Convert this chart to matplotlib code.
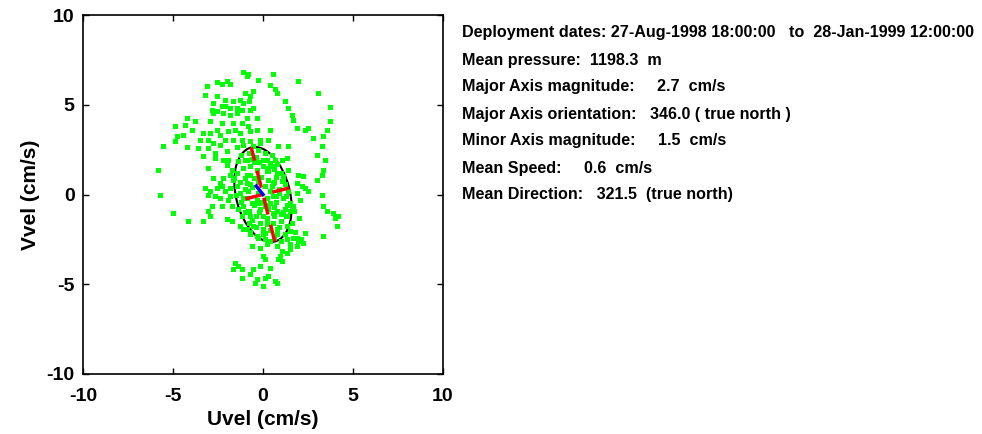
import matplotlib
matplotlib.use("Agg")
import matplotlib.pyplot as plt
import numpy as np
from matplotlib.patches import Ellipse

plt.rcParams['font.family'] = ['Liberation Sans', 'DejaVu Sans']
plt.rcParams['font.weight'] = 'bold'
plt.rcParams['axes.unicode_minus'] = False

# current scatter (cm/s)
uvel = [
    -1.09, -0.81, 0.57, -0.91, -2.02, -2.57, -1.83, 0.39, 1.96, -0.26,
    -3.13, -2.30, -3.22, -2.57, -0.72, -1.00, -0.54, 0.67, 0.76, -2.76,
    -2.30, -2.11, -1.65, -1.28, -1.09, -0.76, 1.22, 3.07, -2.85, -2.57,
    -2.11, -1.83, -1.46, -1.19, -0.72, -0.54, 1.41, 3.72, -4.24, -3.78,
    -4.33, -2.76, -2.20, -1.83, -1.46, -0.91, -0.35, 1.59, 1.69, 3.72,
    -4.89, -3.96, -2.94, -2.30, -1.65, -1.19, -0.81, 1.87, 2.33, 2.52,
    3.54, 3.35, -4.80, -4.43, -3.31, -2.94, -2.57, -2.39, -1.93, -1.56,
    -1.28, -0.72, -0.35, 0.39, 2.80, -5.54, -4.89, -4.24, -3.50, -3.04,
    -2.76, -2.39, -2.11, -1.65, -1.19, -0.72, -0.17, 0.30, 0.85, 1.41,
    3.26, -3.59, -3.04, -2.67, -2.02, -1.46, -1.09, -0.54, -0.17, -3.31,
    -2.67, -2.20, -1.93, -1.37, 2.98, 3.44, -5.81, -3.04, -2.02, -1.74,
    -2.76, -2.20, -2.39, -1.83, -1.65, -1.46, -1.00, -0.72, 0.02, 0.39,
    0.67, 1.04, 1.31, -0.72, -0.35, 0.20, 0.48, 0.76, 1.13, -0.91,
    -0.26, 0.30, 0.57, 1.04, 1.41, 1.96, 2.24, 1.87, 2.15, 2.33,
    2.98, 3.26, 3.35, -3.22, -2.94, -2.57, -2.30, -2.11, -1.83, -1.46,
    -3.04, -2.67, -2.39, -1.83, -1.74, -1.93, -5.72, -1.28, -1.09, -0.81,
    -0.63, -0.35, 0.57, 1.87, 2.52, 3.26, -2.85, -3.04, -2.30, -1.09,
    -0.81, -0.17, 0.11, 0.39, 1.31, 1.69, 2.06, -4.98, -3.31, -4.15,
    -2.94, -2.02, -1.74, -1.19, -0.72, 0.02, 0.57, 1.31, 1.50, 3.35,
    3.54, 3.91, 4.00, 4.19, 4.09, -1.28, -0.91, -0.54, -0.17, 0.20,
    0.57, -0.72, -0.35, 0.11, 0.76, 1.31, 1.50, 1.31, 1.69, 1.96,
    2.24, 1.50, 1.87, 3.35, 2.33, -0.63, -0.17, 0.20, 0.76, 1.04,
    0.94, 1.31, 1.50, -1.56, -1.37, -1.65, -1.19, -0.54, -0.17, 0.11,
    0.39, 0.85, 1.04, 0.02, -1.19, -0.72, -0.35, 0.11, 0.30, 0.67,
    0.76, -0.44, 0.02,
    -1.2, -0.8, -0.4, 0.1, 0.5, 0.8, -1.1, -0.5, 0.0, 0.3,
    0.7, -0.9, -0.5, -0.1, 0.1, 0.4, 0.9, 1.2, -1.3, -1.0,
    -0.6, -0.3, 0.2, 0.7, 1.1, 1.4, -1.2, -0.9, -0.5, -0.1,
    0.3, 0.8, 1.2, -1.0, -0.6, -0.2, 0.2, 0.6, 1.0, 1.3,
    -0.8, -0.4, 0.0, 0.4, 0.9, 1.2, -0.3, 0.1, 0.6, 1.0,
    0.6, 1.0, 0.2, -0.3, 1.5, 1.6, 1.8, -1.4, -1.5, -1.6,
    -0.9, -0.6, -0.2, 0.3, 0.6, 1.1, -1.0, -0.7, -0.3, 0.5,
    0.9, 1.3, -0.8, -0.4, 0.2, 0.6, 1.0, -1.1, -0.7, 0.0,
    0.4, 0.8, -0.2, 0.3, 0.7, 1.1, 1.7, 2.0, 1.9, 2.1,
]
vvel = [
    6.85, 6.72, 6.72, 6.61, 6.30, 6.24, 6.17, 6.11, 6.30, 6.39,
    6.02, 6.17, 5.56, 5.46, 5.50, 5.65, 5.74, 5.87, 5.65, 5.09,
    4.91, 5.28, 5.19, 5.28, 5.09, 5.19, 5.19, 5.65, 4.72, 4.63,
    4.91, 4.81, 4.81, 4.72, 4.72, 4.81, 4.81, 4.85, 4.26, 4.07,
    3.89, 4.54, 4.54, 4.44, 4.54, 4.26, 4.26, 4.44, 4.17, 4.07,
    3.80, 3.61, 4.07, 3.98, 3.98, 3.98, 3.80, 3.70, 3.61, 3.70,
    3.57, 3.24, 3.24, 3.33, 3.43, 3.43, 3.61, 3.33, 3.52, 3.61,
    3.43, 3.52, 3.61, 3.61, 3.15, 2.72, 2.96, 2.65, 3.06, 3.06,
    2.87, 2.78, 3.06, 3.06, 3.06, 2.96, 3.06, 3.06, 2.72, 2.72,
    2.69, 2.59, 2.59, 2.31, 2.41, 2.65, 2.78, 2.69, 2.87, 2.13,
    2.04, 1.94, 1.94, 1.85, 2.22, 1.94, 1.39, 1.48, 1.67, 1.39,
    0.93, 0.93, 0.65, 1.11, 0.83, 1.20, 1.94, 1.57, 1.94, 1.76,
    1.94, 1.94, 2.04, 1.11, 1.39, 1.30, 1.57, 1.20, 1.02, 0.65,
    0.83, 0.83, 0.65, 0.74, 1.39, 1.11, 1.02, 0.65, 0.46, 0.37,
    0.83, 1.11, 1.39, 0.37, 0.19, 0.37, 0.46, 0.19, 0.37, 0.46,
    0.00, -0.09, -0.19, -0.09, -0.65, -0.28, 0.00, 0.09, -0.19, 0.19,
    -0.46, -0.28, -0.09, 0.09, 0.19, 0.00, -0.65, -0.93, -0.65, -0.65,
    -0.93, -0.83, -0.65, -0.46, -0.56, -0.65, -0.28, -1.02, -1.48, -1.48,
    -1.20, -1.39, -1.48, -1.20, -1.20, -1.20, -1.02, -1.20, -0.93, -0.65,
    -0.93, -1.02, -1.30, -1.20, -1.76, -1.76, -1.94, -1.76, -1.57, -1.67,
    -1.57, -2.22, -2.31, -2.13, -1.94, -1.76, -2.04, -2.50, -2.41, -2.59,
    -2.69, -2.78, -2.87, -2.31, -2.13, -2.87, -2.96, -2.78, -2.87, -3.15,
    -3.43, -3.24, -3.06, -3.80, -3.98, -4.17, -4.17, -4.17, -3.98, -3.61,
    -4.07, -3.61, -3.70, -3.43, -4.63, -4.44, -4.72, -4.63, -4.54, -4.81,
    -4.91, -4.91, -5.09,
    2.2, 2.3, 2.1, 2.3, 2.2, 1.7, 1.5, 1.8, 1.6, 1.3,
    1.0, 1.1, 0.9, 1.0, 0.5, 0.2, 0.3, 0.6, 0.7, 0.3,
    0.4, 0.1, -0.2, -0.4, -0.2, 0.2, -0.4, -0.2, -0.6, -0.4,
    -0.8, -0.9, -0.8, -1.0, -1.4, -1.0, -1.3, -1.2, -1.5, -1.2,
    -1.6, -1.8, -1.9, -2.0, -1.8, -2.2, -2.4, -2.5, -2.4, -2.6,
    0.7, 1.2, 1.9, 2.5, -0.5, -1.6, -2.1, -0.8, 0.0, 0.9,
    1.9, 2.0, 1.8, 1.5, 1.4, 0.8, 0.9, 0.6, 0.7, 0.5,
    0.1, -0.1, -0.9, -1.2, -1.6, -0.7, -1.1, -1.9, -2.1, -2.2,
    -2.6, -2.2, -0.5, -0.6, -0.1, -1.0, -0.9, -1.3, -2.4, -2.5,
]

# summary statistics
major_mag = 2.7
minor_mag = 1.5
major_orient = 346.0   # degrees, true north
mean_speed = 0.6
mean_dir = 321.5       # degrees, true north

info_lines = [
    "Deployment dates: 27-Aug-1998 18:00:00   to  28-Jan-1999 12:00:00",
    "Mean pressure:  1198.3  m",
    "Major Axis magnitude:     2.7  cm/s",
    "Major Axis orientation:   346.0 ( true north )",
    "Minor Axis magnitude:     1.5  cm/s",
    "Mean Speed:     0.6  cm/s",
    "Mean Direction:   321.5  (true north)",
]

fig = plt.figure(figsize=(9.82, 4.34), dpi=100)
ax = fig.add_axes([83 / 982, 1 - 374 / 434, 360 / 982, 359 / 434])

ax.plot(uvel, vvel, linestyle='none', marker='s', ms=3.6, mew=0, color='#00ff00')

# principal axes ellipse (angle measured from +x, counter-clockwise)
theta = np.deg2rad(90 - major_orient)
ax.add_patch(Ellipse((0, 0), 2 * major_mag, 2 * minor_mag,
                     angle=np.rad2deg(theta), fill=False, color='black', lw=1.5))
dmaj = np.array([np.cos(theta), np.sin(theta)])
dmin = np.array([-np.sin(theta), np.cos(theta)])
for d, r in [(dmaj, major_mag), (dmin, minor_mag)]:
    ax.plot([-r * d[0], r * d[0]], [-r * d[1], r * d[1]], color='red', lw=2.5,
            linestyle=(0, (5, 3)))

# mean velocity vector
md = np.deg2rad(mean_dir)
ax.plot([0, mean_speed * np.sin(md)], [0, mean_speed * np.cos(md)], color='blue', lw=2.5)

ax.set_xlim(-10, 10)
ax.set_ylim(-10, 10)
ax.set_xticks([-10, -5, 0, 5, 10])
ax.set_yticks([-10, -5, 0, 5, 10])
ax.tick_params(direction='in', length=4, top=True, right=True, labelsize=14, width=1)
ax.tick_params(axis='x', pad=10)
ax.tick_params(axis='y', pad=6)
for s in ax.spines.values():
    s.set_linewidth(1.2)
ax.set_xlabel('Uvel (cm/s)', fontsize=15, fontweight='bold', labelpad=4)
ax.set_ylabel('Vvel (cm/s)', fontsize=15, fontweight='bold', labelpad=5)

for i, line in enumerate(info_lines):
    fig.text(462 / 982, 1 - (33 + 27 * i) / 434, line, fontsize=11.6, fontweight='bold',
             va='center', ha='left')

fig.savefig('out.png', dpi=100)
